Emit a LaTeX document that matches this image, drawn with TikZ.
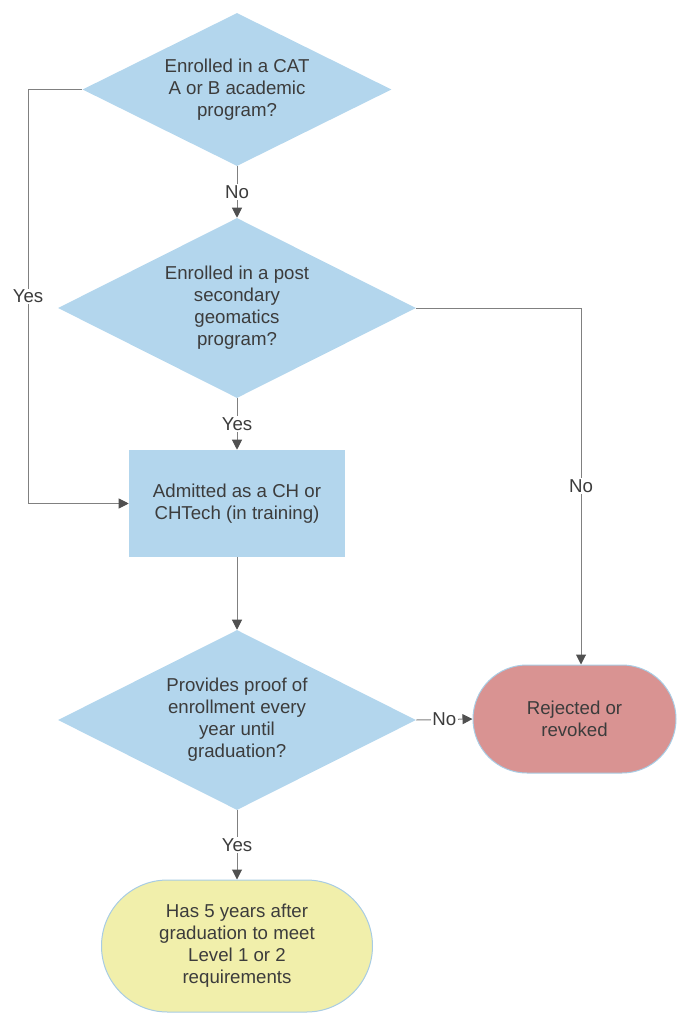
\documentclass[tikz,border=0pt]{standalone}
\usepackage{fontspec}
\setmainfont{Liberation Sans}
\usetikzlibrary{shapes.geometric,shapes.misc,arrows.meta}
\definecolor{boxblue}{RGB}{179,214,237}
\definecolor{edgeblue}{RGB}{168,204,228}
\definecolor{rejectred}{RGB}{217,147,146}
\definecolor{okyellow}{RGB}{241,239,171}
\definecolor{linegray}{RGB}{128,128,128}
\definecolor{tipgray}{RGB}{80,80,80}
\definecolor{txtgray}{RGB}{60,60,60}
\begin{document}
\begin{tikzpicture}[x=0.75pt,y=-0.75pt,
    every node/.style={font=\fontsize{14}{16.5}\selectfont, text=txtgray},
    decision/.style={diamond, aspect=2, fill=boxblue, inner sep=0pt, align=center},
    process/.style={rectangle, fill=boxblue, minimum width=162pt, minimum height=80.25pt, align=center},
    terminal/.style={rounded rectangle, draw=edgeblue, line width=0.75pt, inner sep=0pt, align=center},
    link/.style={draw=linegray, line width=0.75pt, -{Triangle[length=7.5pt,width=7.5pt,color=tipgray]}},
    lab/.style={fill=white, inner sep=1pt}]

        \useasboundingbox (0,0) rectangle (676,1013);

        \node [decision, minimum width=231.75pt, minimum height=114.75pt] (catab) at (237,89.5) {Enrolled in a CAT\\A or B academic\\program?};
        \node [decision, minimum width=268.5pt, minimum height=135pt] (postsec) at (237,308) {Enrolled in a post\\secondary\\geomatics\\program?};
        \node [process] (admit) at (237,503.5) {Admitted as a CH or\\CHTech (in training)};
        \node [decision, minimum width=268.5pt, minimum height=135pt] (proof) at (237,720) {Provides proof of\\enrollment every\\year until\\graduation?};
        \node [terminal, fill=rejectred, minimum width=152.25pt, minimum height=81pt] (reject) at (574.5,719) {Rejected or\\revoked};
        \node [terminal, fill=okyellow, minimum width=203.25pt, minimum height=99pt] (fiveyr) at (237,946) {Has 5 years after\\graduation to meet\\Level 1 or 2\\requirements};

        \coordinate (yesbend) at (28,89.5);
        \coordinate (nobend) at (581,308);

        \draw [link] (catab.south) -- node [lab] {No} (postsec.north);
        \draw [link] (postsec.south) -- node [lab] {Yes} (admit.north);
        \draw [link] (admit.south) -- (proof.north);
        \draw [link] (proof.south) -- node [lab] {Yes} (fiveyr.north);
        \draw [link] (proof.east) -- node [lab] {No} (reject.west);
        \draw [link] (catab.west) -- (yesbend) -- node [lab] {Yes} (yesbend |- admit.west) -- (admit.west);
        \draw [link] (postsec.east) -- (nobend) -- node [lab] {No} (nobend |- reject.north);
    \end{tikzpicture}
\end{document}
